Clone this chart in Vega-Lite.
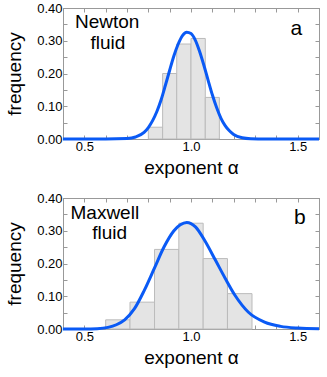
{
  "$schema": "https://vega.github.io/schema/vega-lite/v6.json",
  "padding": {"left": 5, "top": 1, "right": 3, "bottom": 0},
  "config": {
    "font": "Liberation Sans",
    "view": {"stroke": "#999999", "strokeWidth": 1},
    "axis": {
      "labelFont": "Liberation Sans", "labelFontSize": 13, "labelColor": "black",
      "titleFont": "Liberation Sans", "titleFontSize": 19, "titleFontWeight": "normal", "titleColor": "black",
      "domainColor": "#999999", "tickColor": "#999999", "grid": false, "tickSize": -4, "labelPadding": 4, "labelFlush": false
    },
    "concat": {"spacing": 13}
  },
  "datasets": {
    "barsA": [
      {"lo": 0.8, "hi": 0.867, "f": 0.036},
      {"lo": 0.867, "hi": 0.933, "f": 0.2},
      {"lo": 0.933, "hi": 1.0, "f": 0.29},
      {"lo": 1.0, "hi": 1.067, "f": 0.307},
      {"lo": 1.067, "hi": 1.133, "f": 0.127}
    ],
    "curveA": [
      {"x": 0.4, "y": 0}, {"x": 0.6, "y": 0}, {"x": 0.7, "y": 0.0015}, {"x": 0.74, "y": 0.006},
      {"x": 0.78, "y": 0.02}, {"x": 0.8, "y": 0.035}, {"x": 0.82, "y": 0.056}, {"x": 0.84, "y": 0.084},
      {"x": 0.86, "y": 0.12}, {"x": 0.88, "y": 0.164}, {"x": 0.9, "y": 0.21}, {"x": 0.92, "y": 0.254},
      {"x": 0.94, "y": 0.29}, {"x": 0.96, "y": 0.316}, {"x": 0.98, "y": 0.326}, {"x": 1.0, "y": 0.322},
      {"x": 1.02, "y": 0.302}, {"x": 1.04, "y": 0.268}, {"x": 1.06, "y": 0.226}, {"x": 1.08, "y": 0.18},
      {"x": 1.1, "y": 0.135}, {"x": 1.12, "y": 0.096}, {"x": 1.14, "y": 0.064}, {"x": 1.16, "y": 0.041},
      {"x": 1.18, "y": 0.025}, {"x": 1.2, "y": 0.014}, {"x": 1.24, "y": 0.004}, {"x": 1.28, "y": 0.001},
      {"x": 1.35, "y": 0}, {"x": 1.6, "y": 0}
    ],
    "textA": [
      {"x": 0.607, "y": 0.357, "t": "Newton"},
      {"x": 0.61, "y": 0.292, "t": "fluid"}
    ],
    "tagA": [{"x": 1.494, "y": 0.335, "t": "a"}],
    "barsB": [
      {"lo": 0.6, "hi": 0.714, "f": 0.028},
      {"lo": 0.714, "hi": 0.829, "f": 0.082},
      {"lo": 0.829, "hi": 0.943, "f": 0.243},
      {"lo": 0.943, "hi": 1.057, "f": 0.323},
      {"lo": 1.057, "hi": 1.171, "f": 0.215},
      {"lo": 1.171, "hi": 1.286, "f": 0.108}
    ],
    "curveB": [
      {"x": 0.4, "y": 0}, {"x": 0.5, "y": 0}, {"x": 0.56, "y": 0.001}, {"x": 0.611, "y": 0.005},
      {"x": 0.65, "y": 0.013}, {"x": 0.689, "y": 0.028}, {"x": 0.735, "y": 0.062}, {"x": 0.781, "y": 0.118},
      {"x": 0.828, "y": 0.185}, {"x": 0.874, "y": 0.251}, {"x": 0.92, "y": 0.3}, {"x": 0.95, "y": 0.318},
      {"x": 0.98, "y": 0.325}, {"x": 1.0, "y": 0.322}, {"x": 1.021, "y": 0.312}, {"x": 1.067, "y": 0.267},
      {"x": 1.113, "y": 0.212}, {"x": 1.16, "y": 0.155}, {"x": 1.206, "y": 0.103}, {"x": 1.268, "y": 0.052},
      {"x": 1.345, "y": 0.021}, {"x": 1.42, "y": 0.008}, {"x": 1.5, "y": 0.003}, {"x": 1.6, "y": 0.001}
    ],
    "textB": [
      {"x": 0.596, "y": 0.354, "t": "Maxwell"},
      {"x": 0.619, "y": 0.292, "t": "fluid"}
    ],
    "tagB": [{"x": 1.51, "y": 0.338, "t": "b"}]
  },
  "vconcat": [
    {
      "width": 256, "height": 131,
      "layer": [
        {
          "data": {"name": "barsA"},
          "mark": {"type": "rect", "fill": "#e4e4e4", "stroke": "#bbbbbb", "strokeWidth": 1},
          "encoding": {
            "x": {"field": "lo", "type": "quantitative", "scale": {"domain": [0.4, 1.6], "nice": false, "zero": false},
                  "axis": {"orient": "bottom", "title": "exponent α", "titlePadding": 5, "labelPadding": 5,
                           "values": [0.4, 0.5, 0.6, 0.7, 0.8, 0.9, 1.0, 1.1, 1.2, 1.3, 1.4, 1.5, 1.6],
                           "labelExpr": "(abs(datum.value-0.5)<1e-6 || abs(datum.value-1)<1e-6 || abs(datum.value-1.5)<1e-6) ? format(datum.value, '.1f') : ''"}},
            "x2": {"field": "hi"},
            "y": {"field": "f", "type": "quantitative", "scale": {"domain": [0, 0.4], "nice": false},
                  "axis": {"orient": "left", "title": "frequency", "titlePadding": 12, "labelPadding": 5,
                           "values": [0, 0.05, 0.1, 0.15, 0.2, 0.25, 0.3, 0.35, 0.4],
                           "labelExpr": "abs(datum.value*10 - round(datum.value*10)) < 1e-6 ? format(datum.value, '.2f') : ''"}},
            "y2": {"datum": 0}
          }
        },
        {
          "data": {"name": "curveA"},
          "mark": {"type": "line", "color": "#0a5af5", "strokeWidth": 3, "interpolate": "monotone"},
          "encoding": {
            "x": {"field": "x", "type": "quantitative",
                  "axis": {"orient": "top", "labels": false, "title": null, "values": [0.4, 0.5, 0.6, 0.7, 0.8, 0.9, 1.0, 1.1, 1.2, 1.3, 1.4, 1.5, 1.6]}},
            "y": {"field": "y", "type": "quantitative",
                  "axis": {"orient": "right", "labels": false, "title": null, "values": [0, 0.05, 0.1, 0.15, 0.2, 0.25, 0.3, 0.35, 0.4]}}
          }
        },
        {
          "data": {"name": "textA"},
          "mark": {"type": "text", "fontSize": 19, "font": "Liberation Sans", "align": "center", "baseline": "middle"},
          "encoding": {
            "x": {"field": "x", "type": "quantitative", "axis": null},
            "y": {"field": "y", "type": "quantitative", "axis": null},
            "text": {"field": "t"}
          }
        },
        {
          "data": {"name": "tagA"},
          "mark": {"type": "text", "fontSize": 21, "font": "Liberation Sans", "align": "center", "baseline": "middle"},
          "encoding": {
            "x": {"field": "x", "type": "quantitative", "axis": null},
            "y": {"field": "y", "type": "quantitative", "axis": null},
            "text": {"field": "t"}
          }
        }
      ],
      "resolve": {"axis": {"x": "independent", "y": "independent"}}
    },
    {
      "width": 256, "height": 131,
      "layer": [
        {
          "data": {"name": "barsB"},
          "mark": {"type": "rect", "fill": "#e4e4e4", "stroke": "#bbbbbb", "strokeWidth": 1},
          "encoding": {
            "x": {"field": "lo", "type": "quantitative", "scale": {"domain": [0.4, 1.6], "nice": false, "zero": false},
                  "axis": {"orient": "bottom", "title": "exponent α", "titlePadding": 5, "labelPadding": 5,
                           "values": [0.4, 0.5, 0.6, 0.7, 0.8, 0.9, 1.0, 1.1, 1.2, 1.3, 1.4, 1.5, 1.6],
                           "labelExpr": "(abs(datum.value-0.5)<1e-6 || abs(datum.value-1)<1e-6 || abs(datum.value-1.5)<1e-6) ? format(datum.value, '.1f') : ''"}},
            "x2": {"field": "hi"},
            "y": {"field": "f", "type": "quantitative", "scale": {"domain": [0, 0.4], "nice": false},
                  "axis": {"orient": "left", "title": "frequency", "titlePadding": 12, "labelPadding": 5,
                           "values": [0, 0.05, 0.1, 0.15, 0.2, 0.25, 0.3, 0.35, 0.4],
                           "labelExpr": "abs(datum.value*10 - round(datum.value*10)) < 1e-6 ? format(datum.value, '.2f') : ''"}},
            "y2": {"datum": 0}
          }
        },
        {
          "data": {"name": "curveB"},
          "mark": {"type": "line", "color": "#0a5af5", "strokeWidth": 3, "interpolate": "monotone"},
          "encoding": {
            "x": {"field": "x", "type": "quantitative",
                  "axis": {"orient": "top", "labels": false, "title": null, "values": [0.4, 0.5, 0.6, 0.7, 0.8, 0.9, 1.0, 1.1, 1.2, 1.3, 1.4, 1.5, 1.6]}},
            "y": {"field": "y", "type": "quantitative",
                  "axis": {"orient": "right", "labels": false, "title": null, "values": [0, 0.05, 0.1, 0.15, 0.2, 0.25, 0.3, 0.35, 0.4]}}
          }
        },
        {
          "data": {"name": "textB"},
          "mark": {"type": "text", "fontSize": 19, "font": "Liberation Sans", "align": "center", "baseline": "middle"},
          "encoding": {
            "x": {"field": "x", "type": "quantitative", "axis": null},
            "y": {"field": "y", "type": "quantitative", "axis": null},
            "text": {"field": "t"}
          }
        },
        {
          "data": {"name": "tagB"},
          "mark": {"type": "text", "fontSize": 21, "font": "Liberation Sans", "align": "center", "baseline": "middle"},
          "encoding": {
            "x": {"field": "x", "type": "quantitative", "axis": null},
            "y": {"field": "y", "type": "quantitative", "axis": null},
            "text": {"field": "t"}
          }
        }
      ],
      "resolve": {"axis": {"x": "independent", "y": "independent"}}
    }
  ]
}
